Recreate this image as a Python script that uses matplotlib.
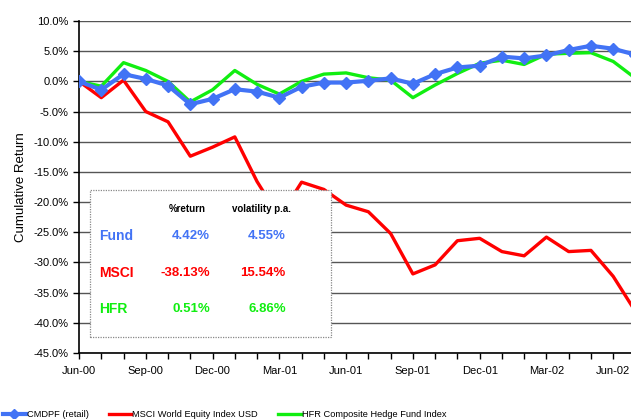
import matplotlib
matplotlib.use("Agg")
import matplotlib.pyplot as plt
from matplotlib.patches import Rectangle
from matplotlib.lines import Line2D

plt.rcParams["font.family"] = ["Liberation Sans", "DejaVu Sans"]

# monthly cumulative returns (%), Jun-00 .. Jul-02
months = list(range(26))
fund = [0.0, -1.4, 1.2, 0.4, -0.7, -3.8, -2.9, -1.3, -1.7, -2.7, -0.9, -0.2, -0.2,
        0.1, 0.5, -0.4, 1.2, 2.3, 2.6, 4.1, 3.8, 4.3, 5.2, 5.9, 5.4, 4.42]
msci = [0.0, -2.7, 0.2, -5.0, -6.7, -12.4, -10.9, -9.2, -16.6, -22.5, -16.7, -17.9, -20.5,
        -21.6, -25.2, -31.9, -30.4, -26.4, -26.0, -28.2, -28.9, -25.8, -28.2, -28.0, -32.3, -38.13]
hfr = [0.0, -0.8, 3.1, 1.8, 0.0, -3.4, -1.4, 1.8, -0.5, -2.1, 0.0, 1.2, 1.4,
       0.6, 0.2, -2.7, -0.6, 1.3, 3.0, 3.5, 2.8, 4.5, 4.65, 4.75, 3.3, 0.51]

tick_pos = [0, 3, 6, 9, 12, 15, 18, 21, 24]
tick_labels = ["Jun-00", "Sep-00", "Dec-00", "Mar-01", "Jun-01",
               "Sep-01", "Dec-01", "Mar-02", "Jun-02"]

series_names = ["CMDPF (retail)", "MSCI World Equity Index USD",
                "HFR Composite Hedge Fund Index"]
table_rows = ["Fund", "MSCI", "HFR"]
table_return = ["4.42%", "-38.13%", "0.51%"]
table_vol = ["4.55%", "15.54%", "6.86%"]

BLUE = "#4273f5"
RED = "#ff0000"
GREEN = "#11ee11"
colors = [BLUE, RED, GREEN]

fig = plt.figure(figsize=(6.31, 4.19), dpi=100)
ax = fig.add_axes([79 / 631, 1 - 353 / 419, 1 - 79 / 631, 332 / 419])

ax.plot(months, hfr, color=GREEN, lw=2.4, zorder=3)
ax.plot(months, msci, color=RED, lw=2.4, zorder=3)
ax.plot(months, fund, color=BLUE, lw=3, marker="D", ms=6.5, zorder=4)

ax.set_xlim(0, 24.8)
ax.set_ylim(-45, 10)
ax.set_yticks(range(-45, 11, 5))
ax.set_yticklabels([f"{v:.1f}%" for v in range(-45, 11, 5)])
ax.set_xticks(tick_pos)
ax.set_xticklabels(tick_labels)
ax.set_xticks(months[:25], minor=True)
ax.tick_params(axis="both", labelsize=8, direction="out", length=4, width=1, color="black")
ax.tick_params(axis="x", which="minor", length=4, width=1)
ax.tick_params(axis="x", pad=5)
ax.grid(axis="y", color="#555555", lw=1)
ax.set_axisbelow(True)
for s in ["top", "right"]:
    ax.spines[s].set_visible(False)
for s in ["left", "bottom"]:
    ax.spines[s].set_linewidth(1.2)
ax.set_ylabel("Cumulative Return", fontsize=9.5, labelpad=5)

# stats box
ax.add_patch(Rectangle((0.02, 0.048), 0.4365, 0.443, transform=ax.transAxes,
                       facecolor="white", edgecolor="#888888", lw=0.9,
                       linestyle=(0, (1, 1)), zorder=5))
ax.text(0.196, 0.434, "%return", transform=ax.transAxes, ha="center", va="center",
        fontsize=7, fontweight="bold", zorder=6)
ax.text(0.331, 0.434, "volatility p.a.", transform=ax.transAxes, ha="center", va="center",
        fontsize=7, fontweight="bold", zorder=6)
row_y = [0.352, 0.241, 0.1325]
for name, ret, vol, c, y in zip(table_rows, table_return, table_vol, colors, row_y):
    ax.text(0.036, y, name, transform=ax.transAxes, ha="left", va="center",
            fontsize=10, fontweight="bold", color=c, zorder=6)
    ax.text(0.237, y, ret, transform=ax.transAxes, ha="right", va="center",
            fontsize=9.5, fontweight="bold", color=c, zorder=6)
    ax.text(0.3745, y, vol, transform=ax.transAxes, ha="right", va="center",
            fontsize=9.5, fontweight="bold", color=c, zorder=6)

handles = [Line2D([], [], color=BLUE, lw=3, marker="D", ms=5),
           Line2D([], [], color=RED, lw=2.4),
           Line2D([], [], color=GREEN, lw=2.4)]
fig.legend(handles, series_names, loc="lower left", bbox_to_anchor=(-0.008, -0.02),
           ncol=3, frameon=False, fontsize=6.7, handlelength=2.4, handletextpad=0.1,
           columnspacing=2.2)

fig.savefig("out.png", dpi=100)
